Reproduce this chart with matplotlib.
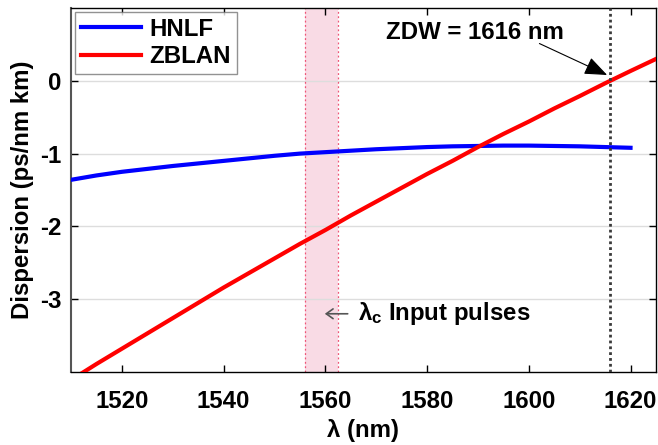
import matplotlib
matplotlib.use("Agg")
import matplotlib.pyplot as plt

plt.rcParams['font.family'] = ['Liberation Sans', 'DejaVu Sans']
plt.rcParams['font.weight'] = 'bold'
plt.rcParams['axes.unicode_minus'] = False
plt.rcParams['mathtext.fontset'] = 'custom'
plt.rcParams['mathtext.rm'] = 'Liberation Sans:bold'
plt.rcParams['mathtext.it'] = 'Liberation Sans:bold'
plt.rcParams['mathtext.bf'] = 'Liberation Sans:bold'

# Dispersion curves (ps/nm km) versus wavelength (nm)
hnlf_wl = [1510, 1515, 1520, 1525, 1530, 1535, 1540, 1545, 1550, 1555, 1560,
           1565, 1570, 1575, 1580, 1585, 1590, 1595, 1600, 1605, 1610, 1615, 1620]
hnlf_d = [-1.36, -1.30, -1.25, -1.21, -1.17, -1.135, -1.10, -1.065, -1.03, -1.00, -0.98,
          -0.96, -0.94, -0.925, -0.91, -0.90, -0.895, -0.89, -0.89, -0.895, -0.90, -0.91, -0.92]

zblan_wl = [1510, 1515, 1520, 1525, 1530, 1535, 1540, 1545, 1550, 1555, 1560,
            1565, 1570, 1575, 1580, 1585, 1590, 1595, 1600, 1605, 1610, 1615, 1620, 1625]
zblan_d = [-4.11, -3.89, -3.68, -3.47, -3.26, -3.05, -2.84, -2.64, -2.44, -2.24, -2.05,
           -1.85, -1.66, -1.47, -1.28, -1.10, -0.91, -0.73, -0.56, -0.38, -0.21, -0.034, 0.135, 0.30]

zdw = 1616
pulse_band = (1556, 1562.5)

x_ticks = [1520, 1540, 1560, 1580, 1600, 1620]
y_ticks = [-3, -2, -1, 0]

FS = 17.3

fig = plt.figure(figsize=(6.58, 4.45), dpi=100)
ax = fig.add_axes([0.1079, 0.164, 0.889, 0.818])

ax.set_xlim(1510, 1625)
ax.set_ylim(-4, 1)

# input pulse band
ax.axvspan(pulse_band[0], pulse_band[1], color='#f9dbe5', lw=0, zorder=0)
for xb in pulse_band:
    ax.axvline(xb, color='#ee5577', lw=0.9, ls=(0, (1.5, 2)), zorder=1)

ax.set_yticks(y_ticks)
ax.set_xticks(x_ticks)
ax.grid(axis='y', color='#dddddd', lw=1.0, zorder=0)
ax.set_axisbelow(True)

ax.plot(hnlf_wl, hnlf_d, color='#0000ff', lw=3.0, label='HNLF', zorder=3)
ax.plot(zblan_wl, zblan_d, color='#ff0000', lw=3.0, label='ZBLAN', zorder=3)

ax.axvline(zdw, color='#3a3a3a', lw=2.0, ls=(0, (1, 1.1)), zorder=4)

ax.tick_params(direction='in', length=5, width=1, top=True, right=True,
               labelsize=FS)
ax.tick_params(axis='x', pad=13)
ax.tick_params(axis='y', pad=7)
for lab in ax.get_xticklabels() + ax.get_yticklabels():
    lab.set_fontweight('bold')
for s in ['top', 'right', 'bottom']:
    ax.spines[s].set_color('black')
    ax.spines[s].set_linewidth(1.0)
ax.spines['left'].set_color('#555555')
ax.spines['left'].set_linewidth(1.5)

ax.set_xlabel('λ (nm)', fontsize=FS, fontweight='bold', labelpad=4)
ax.set_ylabel('Dispersion (ps/nm km)', fontsize=FS, fontweight='bold', labelpad=4)

leg = ax.legend(loc='upper left', fontsize=FS, frameon=True, fancybox=False,
                borderaxespad=0.15, handlelength=2.5, handletextpad=0.35,
                labelspacing=0.2, borderpad=0.25)
leg.get_frame().set_edgecolor('#777777')
leg.get_frame().set_linewidth(1.0)
for t in leg.get_texts():
    t.set_fontweight('bold')

ax.annotate('ZDW = 1616 nm', xy=(1615.4, 0.08), xytext=(1589.5, 0.67),
            fontsize=FS, fontweight='bold', ha='center', va='center',
            arrowprops=dict(arrowstyle='-|>,head_length=1.0,head_width=0.4',
                            mutation_scale=14, lw=0.8, color='black',
                            shrinkA=0, shrinkB=0,
                            patchA=None, relpos=(0.86, 0.0)),
            zorder=5)

ax.annotate('', xy=(1559.9, -3.2), xytext=(1564.4, -3.2),
            arrowprops=dict(arrowstyle='->,head_length=0.35,head_width=0.25',
                            mutation_scale=14, lw=1.2, color='#555555',
                            shrinkA=0, shrinkB=0), zorder=5)
ax.text(1566.5, -3.2, r'$\lambda_{\rm c}$ Input pulses', fontsize=FS,
        fontweight='bold', ha='left', va='center', zorder=5)

fig.savefig('out.png', dpi=100)
